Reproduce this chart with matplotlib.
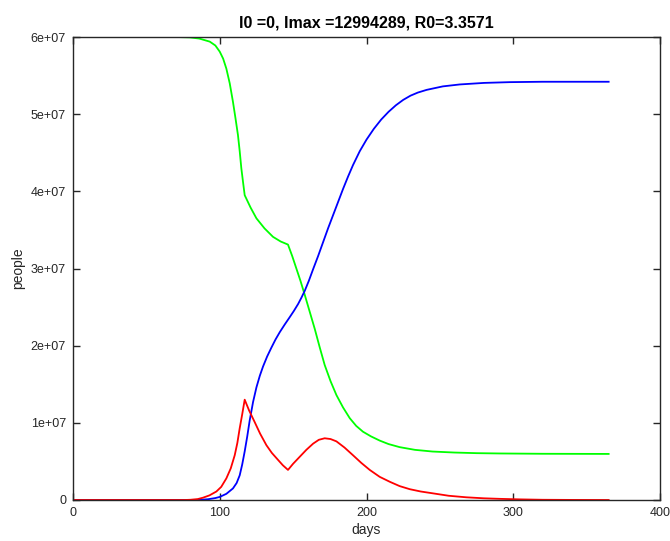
import matplotlib
matplotlib.use("Agg")
import matplotlib.pyplot as plt

# Susceptible (green)
s_days = [0, 70, 79.5, 86, 93.2, 97, 100, 102.3, 104.5, 106.8, 109, 110.7, 112.4, 113.6, 114.7, 116, 117,
          121, 125, 130.5, 136.3, 141.5, 146.5, 149.4, 152.2, 155, 157.9, 161.3, 164.7, 168.1, 171.5,
          175.5, 179.5, 184, 188.6, 193, 197.6, 203, 209, 215, 222.6, 233, 245, 260, 275, 290.8, 320, 365]
s_vals = [6.0e7, 6.0e7, 5.995e7, 5.98e7, 5.94e7, 5.89e7, 5.81e7, 5.72e7, 5.59e7, 5.40e7, 5.16e7, 4.95e7, 4.73e7, 4.52e7, 4.30e7, 4.10e7, 3.95e7,
          3.79e7, 3.65e7, 3.52e7, 3.41e7, 3.35e7, 3.31e7, 3.16e7, 3.00e7, 2.84e7, 2.66e7, 2.44e7, 2.22e7, 1.98e7, 1.75e7,
          1.54e7, 1.36e7, 1.20e7, 1.06e7, 0.96e7, 0.885e7, 0.825e7, 0.77e7, 0.725e7, 0.685e7, 0.65e7, 0.628e7, 0.615e7, 0.607e7, 0.603e7, 0.599e7, 0.597e7]

# Infected (red)
i_days = [0, 76, 80, 85, 88.6, 93, 97.7, 101, 104.5, 107.5, 110.2, 112, 113.6, 115.3, 117,
          120, 123.8, 127.5, 131.8, 135.5, 139.7, 143, 146.5,
          150, 154.5, 159, 163.6, 167.5, 171.5, 175.5, 179.5, 185, 190.8, 196.5, 202.2, 209,
          216, 222.6, 229.5, 237, 245, 256, 268, 280, 290.8, 305, 320, 340, 365]
i_vals = [0, 0, 0.003e7, 0.012e7, 0.03e7, 0.06e7, 0.11e7, 0.17e7, 0.28e7, 0.41e7, 0.58e7, 0.74e7, 0.93e7, 1.11e7, 1.30e7,
          1.16e7, 1.01e7, 0.86e7, 0.71e7, 0.61e7, 0.52e7, 0.45e7, 0.39e7,
          0.47e7, 0.56e7, 0.65e7, 0.73e7, 0.78e7, 0.80e7, 0.79e7, 0.76e7, 0.68e7, 0.58e7, 0.48e7, 0.39e7, 0.30e7,
          0.235e7, 0.18e7, 0.14e7, 0.11e7, 0.087e7, 0.055e7, 0.035e7, 0.022e7, 0.015e7, 0.008e7, 0.003e7, 0.001e7, 0]

# Recovered (blue)
r_days = [0, 85, 92, 97, 100, 104.5, 109, 111.5, 113.6, 115.3, 117, 118.7, 120.4, 122.7, 125, 127.3, 129.5,
          132.3, 135.2, 138, 140.9, 144.3, 147.7, 150.5, 153.4, 155.6, 157.9, 160.7, 163.6, 167, 170.4,
          173.8, 177.2, 180.6, 184, 187.4, 190.8, 195.4, 200, 205, 210, 215, 220, 225,
          230, 235, 241, 252, 263.5, 280, 297.6, 320, 365]
r_vals = [0, 0, 0.01e7, 0.025e7, 0.04e7, 0.08e7, 0.15e7, 0.22e7, 0.32e7, 0.46e7, 0.63e7, 0.82e7, 1.03e7, 1.27e7, 1.46e7, 1.61e7, 1.73e7,
          1.86e7, 1.975e7, 2.08e7, 2.175e7, 2.275e7, 2.37e7, 2.45e7, 2.54e7, 2.62e7, 2.71e7, 2.84e7, 2.99e7, 3.16e7, 3.34e7,
          3.52e7, 3.69e7, 3.86e7, 4.03e7, 4.19e7, 4.34e7, 4.52e7, 4.67e7, 4.81e7, 4.93e7, 5.03e7, 5.115e7, 5.185e7,
          5.24e7, 5.28e7, 5.315e7, 5.36e7, 5.385e7, 5.405e7, 5.415e7, 5.42e7, 5.42e7]

x_ticks = [0, 100, 200, 300, 400]
y_ticks = [0, 1e7, 2e7, 3e7, 4e7, 5e7, 6e7]
y_tick_labels = ["0", "1e+07", "2e+07", "3e+07", "4e+07", "5e+07", "6e+07"]

plt.rcParams['font.family'] = ['Liberation Sans', 'DejaVu Sans']

fig = plt.figure(figsize=(6.7, 5.41), dpi=100)
ax = fig.add_axes([73 / 670, 41 / 541, (660 - 73) / 670, (500 - 37) / 541])

ax.plot(s_days, s_vals, color=(0, 1, 0), lw=1.3)
ax.plot(r_days, r_vals, color=(0, 0, 1), lw=1.3)
ax.plot(i_days, i_vals, color=(1, 0, 0), lw=1.3)

ax.set_xlim(0, 400)
ax.set_ylim(0, 6e7)
ax.set_xticks(x_ticks)
ax.set_xticklabels([str(t) for t in x_ticks])
ax.set_yticks(y_ticks)
ax.set_yticklabels(y_tick_labels)

ax.tick_params(direction='in', length=5, width=1, top=True, right=True,
               labelsize=9, colors='#262626', pad=5)
for sp in ax.spines.values():
    sp.set_color('#262626')
    sp.set_linewidth(1)

ax.set_xlabel('days', fontsize=10, color='#262626', labelpad=3)
ax.set_ylabel('people', fontsize=10, color='#262626', labelpad=4)
ax.set_title('I0 =0, Imax =12994289, R0=3.3571', fontsize=11.5, fontweight='bold', pad=7)

fig.savefig('out.png', dpi=100)
